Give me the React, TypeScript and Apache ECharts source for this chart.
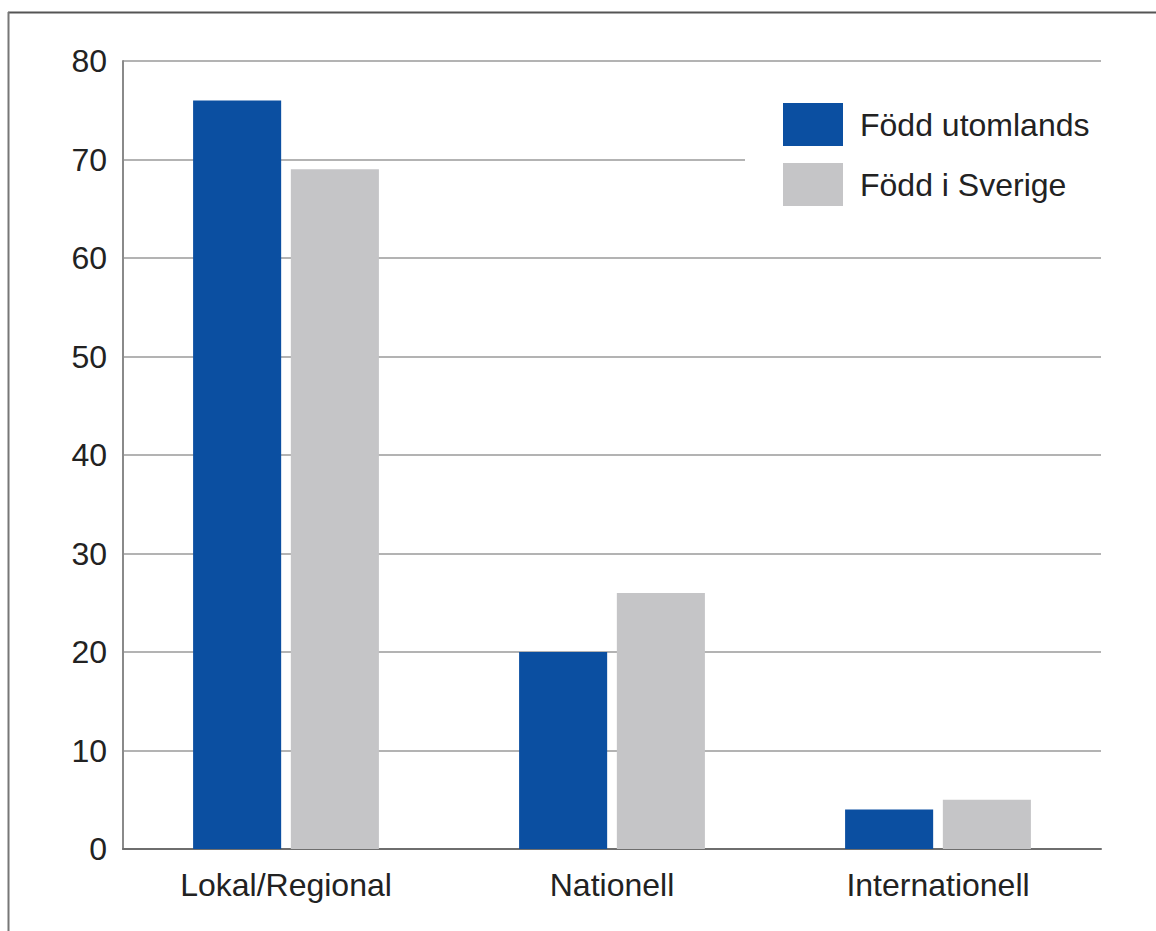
import React, { useEffect, useRef } from "react";
import * as echarts from "echarts";

const categories = ["Lokal/Regional", "Nationell", "Internationell"];
const seriesNames = ["Född utomlands", "Född i Sverige"];
const foddUtomlands = [76, 20, 4];
const foddISverige = [69, 26, 5];
const yTicks = [0, 10, 20, 30, 40, 50, 60, 70, 80];

export default function App() {
  const ref = useRef<HTMLDivElement>(null);
  useEffect(() => {
    if (!ref.current) return;
    const chart = echarts.init(ref.current, null, { renderer: "svg" });
    const font = "'Liberation Sans', Arial, sans-serif";
    chart.setOption({
      animation: false,
      backgroundColor: "#ffffff",
      textStyle: { fontFamily: font },
      grid: { left: 123, top: 61, right: 55, bottom: 82, containLabel: false },
      xAxis: {
        type: "category",
        data: categories,
        axisLine: { show: true, lineStyle: { color: "#6e6e6e", width: 2 } },
        axisTick: { show: false },
        axisLabel: { color: "#222", fontSize: 32, margin: 20, fontFamily: font },
      },
      yAxis: {
        type: "value",
        min: yTicks[0],
        max: yTicks[yTicks.length - 1],
        interval: 10,
        axisLine: { show: true, lineStyle: { color: "#8a8a8a", width: 2 } },
        axisTick: { show: false },
        axisLabel: { color: "#222", fontSize: 32, margin: 16, fontFamily: font },
        splitLine: { show: true, lineStyle: { color: "#9a9a9a", width: 1.5 } },
      },
      legend: {
        show: true,
        orient: "vertical",
        left: 745,
        top: 83,
        padding: [20, 40, 20, 38],
        backgroundColor: "#ffffff",
        itemWidth: 60,
        itemHeight: 43,
        itemGap: 17,
        icon: "rect",
        textStyle: { color: "#222", fontSize: 32, fontFamily: font, padding: [0, 0, 0, 12] },
        data: seriesNames,
      },
      series: [
        {
          name: seriesNames[0],
          type: "bar",
          data: foddUtomlands,
          itemStyle: { color: "#0b4fa1" },
          barGap: "11%",
          barCategoryGap: "43%",
        },
        {
          name: seriesNames[1],
          type: "bar",
          data: foddISverige,
          itemStyle: { color: "#c5c5c7" },
          barGap: "11%",
          barCategoryGap: "43%",
        },
      ],
      graphic: [
        {
          type: "line",
          shape: { x1: 8, y1: 12.5, x2: 1156, y2: 12.5 },
          style: { stroke: "#555", lineWidth: 2 },
          silent: true,
        },
        {
          type: "line",
          shape: { x1: 8.5, y1: 12, x2: 8.5, y2: 931 },
          style: { stroke: "#777", lineWidth: 2 },
          silent: true,
        },
      ],
    });
    return () => chart.dispose();
  }, []);
  return (
    <div
      ref={ref}
      style={{ position: "fixed", left: 0, top: 0, width: 1156, height: 931 }}
    />
  );
}
